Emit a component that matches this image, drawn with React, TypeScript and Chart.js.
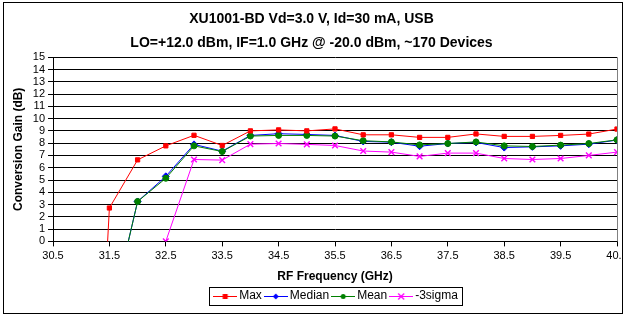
import React, { useEffect, useRef } from "react";
import { Chart, registerables } from "chart.js";

Chart.register(...registerables);

const titleLines = [
  "XU1001-BD Vd=3.0 V, Id=30 mA, USB",
  "LO=+12.0 dBm, IF=1.0 GHz @ -20.0 dBm, ~170 Devices",
];
const xTicks = [30.5, 31.5, 32.5, 33.5, 34.5, 35.5, 36.5, 37.5, 38.5, 39.5, 40.5];
const freqs = [31.0, 31.5, 32.0, 32.5, 33.0, 33.5, 34.0, 34.5, 35.0, 35.5, 36.0, 36.5, 37.0, 37.5, 38.0, 38.5, 39.0, 39.5, 40.0, 40.5];
const maxVals = [-40, 2.72, 6.64, 7.78, 8.64, 7.81, 9.0, 9.08, 9.0, 9.16, 8.68, 8.68, 8.47, 8.47, 8.75, 8.55, 8.55, 8.63, 8.74, 9.15];
const medianVals = [null, -6.6, 3.25, 5.3, 7.9, 7.35, 8.63, 8.77, 8.71, 8.63, 8.14, 8.08, 7.75, 7.97, 8.06, 7.64, 7.7, 7.78, 7.92, 8.25];
const meanVals = [null, -6.6, 3.25, 5.14, 7.78, 7.32, 8.58, 8.63, 8.63, 8.58, 8.2, 8.1, 7.86, 7.97, 8.1, 7.78, 7.73, 7.84, 7.97, 8.27];
const sigmaVals = [null, null, null, 0, 6.67, 6.62, 7.92, 7.97, 7.9, 7.81, 7.36, 7.27, 6.92, 7.19, 7.19, 6.75, 6.67, 6.75, 7.0, 7.27];

const seriesNames = ["Max", "Median", "Mean", "-3sigma"];
const seriesColors = ["#FF0000", "#0000FF", "#008000", "#FF00FF"];
const seriesStyles = ["rect", "rectRot", "circle", "crossRot"];

const FONT = "Arial, 'Liberation Sans', sans-serif";

function makeLegendIcon(color: string, style: string) {
  const c = document.createElement("canvas");
  c.width = 24;
  c.height = 10;
  const ctx = c.getContext("2d")!;
  ctx.strokeStyle = color;
  ctx.fillStyle = color;
  ctx.lineWidth = 1;
  ctx.beginPath();
  ctx.moveTo(0, 5.5);
  ctx.lineTo(24, 5.5);
  ctx.stroke();
  const cx = 12, cy = 5.5;
  if (style === "rect") {
    ctx.fillRect(cx - 2.5, cy - 2.5, 5, 5);
  } else if (style === "rectRot") {
    ctx.beginPath();
    ctx.moveTo(cx, cy - 3);
    ctx.lineTo(cx + 3, cy);
    ctx.lineTo(cx, cy + 3);
    ctx.lineTo(cx - 3, cy);
    ctx.closePath();
    ctx.fill();
  } else if (style === "circle") {
    ctx.beginPath();
    ctx.arc(cx, cy, 2.5, 0, Math.PI * 2);
    ctx.fill();
  } else {
    ctx.lineWidth = 1.3;
    ctx.beginPath();
    ctx.moveTo(cx - 3, cy - 3);
    ctx.lineTo(cx + 3, cy + 3);
    ctx.moveTo(cx + 3, cy - 3);
    ctx.lineTo(cx - 3, cy + 3);
    ctx.stroke();
  }
  return c;
}

const frameplugin = {
  id: "frameplugin",
  afterLayout(chart: any) {
    if (chart.legend) {
      chart.legend.left += 52;
    }
  },
  beforeDraw(chart: any) {
    const ctx = chart.ctx;
    ctx.save();
    ctx.fillStyle = "#fff";
    ctx.fillRect(0, 0, chart.width, chart.height);
    ctx.restore();
  },
  afterDraw(chart: any) {
    const ctx = chart.ctx;
    const a = chart.chartArea;
    ctx.save();
    ctx.strokeStyle = "#808080";
    ctx.lineWidth = 1;
    ctx.beginPath();
    ctx.moveTo(Math.round(a.right) + 0.5, a.top);
    ctx.lineTo(Math.round(a.right) + 0.5, a.bottom);
    ctx.stroke();
    // outer frame (drawn last so the clipped tick label sits under it)
    ctx.fillStyle = "#fff";
    ctx.fillRect(623, 0, 3, chart.height);
    ctx.strokeStyle = "#000";
    ctx.strokeRect(3.5, 2.5, 619, 311);
    const boxes = chart.legend?.legendHitBoxes || [];
    if (boxes.length) {
      let l = Infinity, r = -Infinity, t = Infinity, b = -Infinity;
      for (const h of boxes) {
        l = Math.min(l, h.left);
        r = Math.max(r, h.left + h.width);
        t = Math.min(t, h.top);
        b = Math.max(b, h.top + h.height);
      }
      ctx.strokeStyle = "#000";
      ctx.strokeRect(Math.round(l - 8) + 0.5, Math.round(t - 3) + 0.5, Math.round(r - l + 12), Math.round(b - t + 6));
    }
    ctx.restore();
  },
};

export default function App() {
  const ref = useRef<HTMLCanvasElement>(null);
  useEffect(() => {
    document.body.style.margin = "0";
    document.body.style.overflow = "hidden";
    const icons = seriesColors.map((c, i) => makeLegendIcon(c, seriesStyles[i]));
    const valueSets = [maxVals, medianVals, meanVals, sigmaVals];
    const orders = [0, 2, 1, 0];
    const datasets = seriesNames.map((name, i) => ({
      label: name,
      data: freqs.map((f, j) => ({ x: f, y: valueSets[i][j] })),
      borderColor: seriesColors[i],
      backgroundColor: seriesColors[i],
      borderWidth: 1,
      pointStyle: seriesStyles[i],
      pointRadius: seriesStyles[i] === "crossRot" ? 4 : seriesStyles[i] === "rectRot" ? 3.5 : 3,
      pointBorderWidth: seriesStyles[i] === "crossRot" ? 1.4 : 1,
      spanGaps: false,
      order: orders[i],
      tension: 0,
    }));
    const chart = new Chart(ref.current!, {
      type: "line",
      data: { datasets },
      plugins: [frameplugin],
      options: {
        animation: false,
        responsive: false,
        devicePixelRatio: 1,
        layout: { padding: { left: 6, right: 9, top: 6, bottom: 4 } },
        plugins: {
          tooltip: { enabled: false },
          title: {
            display: true,
            text: titleLines,
            color: "#000",
            font: { family: FONT, size: 14, weight: "bold", lineHeight: 1.65 },
            padding: { top: 2, bottom: 3 },
          },
          legend: {
            display: true,
            position: "bottom",
            labels: {
              usePointStyle: true,
              pointStyleWidth: 16,
              color: "#000",
              font: { family: FONT, size: 12 },
              padding: 6,
              generateLabels: () =>
                seriesNames.map((n, i) => ({
                  text: n,
                  pointStyle: icons[i] as any,
                  fillStyle: seriesColors[i],
                  strokeStyle: seriesColors[i],
                  lineWidth: 0,
                  hidden: false,
                  datasetIndex: i,
                  fontColor: "#000",
                })),
            },
          },
        },
        scales: {
          x: {
            type: "linear",
            min: 30.5,
            max: 40.5,
            afterBuildTicks: (s: any) => {
              s.ticks = xTicks.map((v) => ({ value: v }));
            },
            afterFit: (s: any) => {
              s.paddingLeft = 0;
              s.paddingRight = 0;
            },
            ticks: {
              color: "#000",
              font: { family: FONT, size: 11 },
              callback: (v: any) => Number(v).toFixed(1),
              maxRotation: 0,
              autoSkip: false,
              padding: 3,
            },
            grid: { drawOnChartArea: false, drawTicks: true, tickLength: 5, color: "#000" },
            border: { display: true, color: "#000" },
            title: {
              display: true,
              text: "RF Frequency (GHz)",
              color: "#000",
              font: { family: FONT, size: 12, weight: "bold" },
              padding: { top: 4, bottom: 0 },
            },
          },
          y: {
            min: 0,
            max: 15,
            afterFit: (s: any) => {
              s.width = 47;
            },
            ticks: {
              stepSize: 1,
              autoSkip: false,
              color: "#000",
              font: { family: FONT, size: 11 },
              padding: 3,
            },
            grid: { color: "#000", tickLength: 5, lineWidth: 1 },
            border: { display: true, color: "#000" },
            title: {
              display: true,
              text: "Conversion Gain (dB)",
              color: "#000",
              font: { family: FONT, size: 12, weight: "bold" },
              padding: { top: 5, bottom: 7 },
            },
          },
        },
      },
    } as any);
    return () => chart.destroy();
  }, []);
  return (
    <div style={{ width: 626, height: 316 }}>
      <canvas ref={ref} width={626} height={316} />
    </div>
  );
}
